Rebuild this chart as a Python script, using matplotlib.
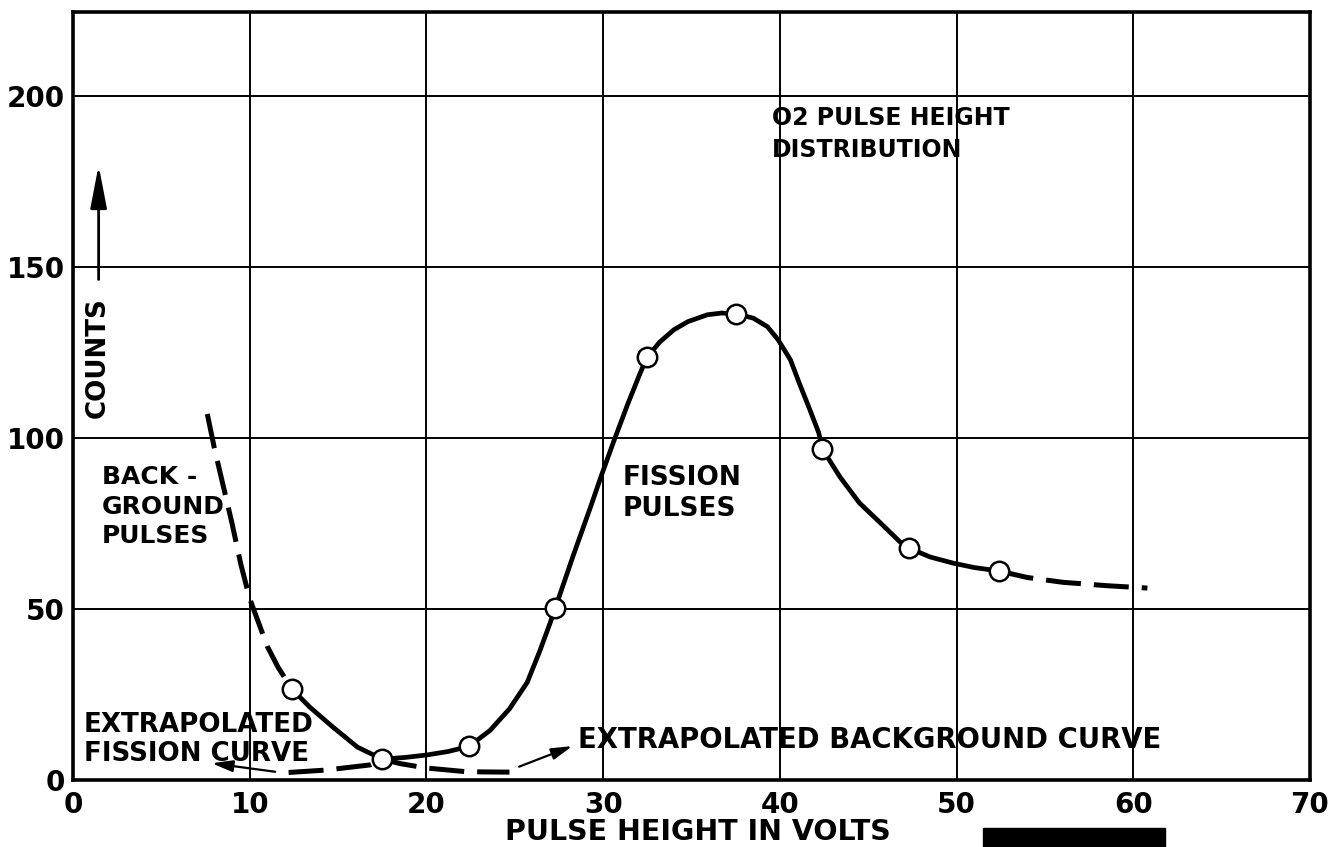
import matplotlib.pyplot as plt
from matplotlib.patches import Rectangle

# measured points (open circles)
point_x = [12.4, 17.5, 22.4, 27.3, 32.5, 37.5, 42.4, 47.3, 52.4]
point_y = [26.5, 6.1, 9.8, 50.4, 123.7, 136.3, 96.8, 67.8, 61.1]

# drawn fission curve
fission_x = [12.4, 13.4, 14.7, 16.1, 17.5, 18.8, 20.0, 21.2, 22.4, 23.6, 24.7, 25.7,
             26.4, 27.0, 27.3, 28.3, 29.3, 29.9, 30.6, 31.4, 32.1, 32.5, 33.2, 34.0,
             34.8, 35.9, 36.7, 37.5, 38.5, 39.3, 39.9, 40.6, 41.1, 41.7, 42.2, 42.4,
             43.4, 44.5, 45.7, 46.8, 47.3, 48.5, 49.8, 51.0, 52.4]
fission_y = [26.5, 21.3, 15.5, 9.6, 6.1, 6.6, 7.3, 8.3, 9.8, 14.5, 20.8, 28.5,
             37.5, 45.9, 50.4, 65.5, 80.0, 89.0, 99.0, 110.0, 119.0, 123.7, 128.0, 131.6,
             134.0, 136.0, 136.5, 136.3, 135.0, 132.5, 128.7, 122.8, 116.0, 108.2, 101.5, 96.8,
             88.6, 81.0, 75.1, 69.6, 67.8, 65.2, 63.4, 62.1, 61.1]

# dashed tail at high pulse height
tail_x = [52.4, 54.0, 56.0, 58.5, 60.8]
tail_y = [61.1, 59.2, 57.8, 56.8, 56.1]

# background pulses (dashed, upper left)
bg_x = [7.6, 8.0, 8.5, 9.0, 9.5, 10.0, 10.5, 11.0, 11.6, 12.4]
bg_y = [107.0, 97.0, 86.0, 75.0, 63.0, 53.0, 46.0, 39.0, 33.0, 26.5]

# extrapolated curves near zero
ext_fission_x = [12.2, 14.3, 16.8, 17.5]
ext_fission_y = [2.2, 2.9, 4.4, 6.1]
ext_bg_x = [17.5, 18.5, 20.0, 22.3, 24.7]
ext_bg_y = [6.1, 4.8, 3.5, 2.4, 2.3]

x_ticks = [0, 10, 20, 30, 40, 50, 60, 70]
y_ticks = [0, 50, 100, 150, 200]

plt.rcParams['font.family'] = 'DejaVu Sans'
plt.rcParams['font.weight'] = 'bold'

fig = plt.figure(figsize=(13.31, 8.47), dpi=100)
ax = fig.add_axes([73 / 1331, 1 - 780 / 847, (1310 - 73) / 1331, (780 - 12) / 847])

ax.set_xlim(0, 70)
ax.set_ylim(0, 224.5)
ax.set_xticks(x_ticks)
ax.set_yticks(y_ticks)
ax.set_xticklabels([str(v) for v in x_ticks], fontsize=20, fontweight='bold')
ax.set_yticklabels([str(v) for v in y_ticks], fontsize=20, fontweight='bold')
ax.tick_params(length=0, pad=6)
ax.tick_params(axis='x', pad=8)
ax.grid(True, color='black', linewidth=1.4)
ax.set_axisbelow(True)
for s in ax.spines.values():
    s.set_linewidth(2.6)

fig.text(698 / 1331, (847 - 840) / 847, 'PULSE HEIGHT IN VOLTS', fontsize=20.5,
         fontweight='bold', ha='center', va='baseline')

ax.plot(fission_x, fission_y, color='black', lw=3.4, solid_capstyle='round',
        solid_joinstyle='round', zorder=3)
dash = dict(color='black', lw=3.6, dashes=(7, 2.6), zorder=3)
ax.plot(tail_x, tail_y, **dash)
ax.plot(bg_x, bg_y, **dash)
ax.plot(ext_fission_x, ext_fission_y, **dash)
ax.plot(ext_bg_x, ext_bg_y, **dash)
ax.plot(point_x, point_y, 'o', markersize=14, markerfacecolor='white',
        markeredgecolor='black', markeredgewidth=1.8, zorder=4)

# counts arrow and label
ax.annotate('', xy=(1.45, 180.5), xytext=(1.45, 145.5),
            arrowprops=dict(arrowstyle='-|>,head_length=1.3,head_width=0.25',
                            mutation_scale=20, lw=2.0, color='black'))
ax.text(1.42, 123.5, 'COUNTS', rotation=90, fontsize=18.8, fontweight='bold',
        ha='center', va='center')

ax.text(1.65, 92.0, 'BACK -\nGROUND\nPULSES', fontsize=18, fontweight='bold',
        ha='left', va='top', linespacing=1.28)
ax.text(31.1, 92.0, 'FISSION\nPULSES', fontsize=19, fontweight='bold',
        ha='left', va='top', linespacing=1.23)
ax.text(39.55, 197.0, 'O2 PULSE HEIGHT\nDISTRIBUTION', fontsize=17, fontweight='bold',
        ha='left', va='top', linespacing=1.4)
ax.text(0.6, 20.0, 'EXTRAPOLATED\nFISSION CURVE', fontsize=18.8, fontweight='bold',
        ha='left', va='top', linespacing=1.17)
ax.text(28.6, 9.4, 'EXTRAPOLATED BACKGROUND CURVE', fontsize=19.8, fontweight='bold',
        ha='left', va='baseline')

small = dict(arrowstyle='-|>,head_length=0.9,head_width=0.25', mutation_scale=14,
             lw=1.6, color='black')
ax.annotate('', xy=(7.7, 5.0), xytext=(11.6, 2.3), arrowprops=small)
ax.annotate('', xy=(28.4, 10.2), xytext=(25.1, 3.6), arrowprops=small)

# black bar at the bottom edge of the scan
fig.add_artist(Rectangle((983 / 1331, 0), (1165 - 983) / 1331, 19 / 847,
                         transform=fig.transFigure, color='black'))

fig.savefig('out.png', dpi=100)
